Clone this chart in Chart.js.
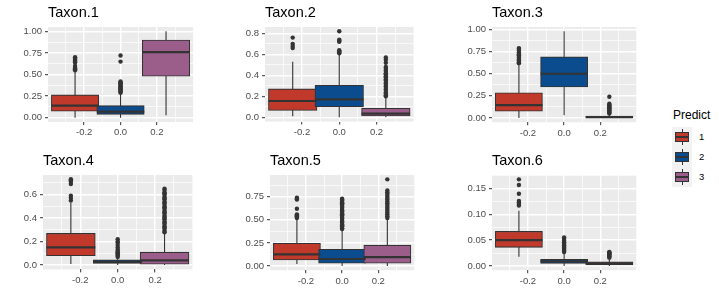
<!DOCTYPE html>
<html lang="en">
<head>
<meta charset="UTF-8">
<title>Taxon boxplots by Predict</title>
<script src="https://cdn.jsdelivr.net/npm/chart.js"></script>
<style>
  body { margin: 0; background: #ffffff; font-family: 'Liberation Sans', Arial, sans-serif; }
  #wrap { position: relative; width: 719px; height: 296px; overflow: hidden; }
  #wrap canvas { position: absolute; }
  .lg-title { position: absolute; left: 673px; top: 108px; font-size: 12px; line-height: 14px; color: #000; }
  .lg-key { position: absolute; left: 672px; width: 20px; height: 20px; background: #F2F2F2; }
  .lg-key .wh { position: absolute; left: 9.5px; top: 2px; width: 1px; height: 16px; background: #333; }
  .lg-key .bx { position: absolute; left: 3px; top: 5px; width: 14px; height: 10px; border: 1px solid #333; box-sizing: border-box; }
  .lg-key .md { position: absolute; left: 3px; top: 9px; width: 14px; height: 2px; background: #333; }
  .lg-label { position: absolute; left: 699px; font-size: 9.5px; line-height: 20px; color: #000; }
</style>
</head>
<body>
<div id="wrap">
  <div class="lg-title">Predict</div>
</div>

<script>
// ---- data ----
const groups = ['1', '2', '3'];
const groupColors = ['#C0392B', '#0B4C8F', '#9B5E8B'];
const groupX = [-0.25, 0, 0.25];
const xTickValues = [-0.2, 0, 0.2];
const xTickLabels = ['-0.2', '0.0', '0.2'];
const taxonNames = ['Taxon.1', 'Taxon.2', 'Taxon.3', 'Taxon.4', 'Taxon.5', 'Taxon.6'];

// each row: [lower whisker, q1, median, q3, upper whisker] for groups 1, 2, 3
const taxon1Stats = [[0.0, 0.075, 0.14, 0.265, 0.53], [0.0, 0.04, 0.072, 0.14, 0.28], [0.03, 0.48, 0.76, 0.90, 1.0]];
const taxon1Outliers = [
  [0.55, 0.56, 0.57, 0.58, 0.60, 0.64, 0.65, 0.66, 0.67, 0.68, 0.69, 0.70],
  [0.29, 0.30, 0.31, 0.32, 0.33, 0.34, 0.35, 0.36, 0.37, 0.38, 0.39, 0.40, 0.41, 0.42, 0.65, 0.72],
  []
];
const taxon1Ticks = [0, 0.25, 0.5, 0.75, 1];
const taxon1Labels = ['0.00', '0.25', '0.50', '0.75', '1.00'];

const taxon2Stats = [[0.01, 0.065, 0.155, 0.27, 0.53], [0.0, 0.10, 0.17, 0.305, 0.60], [0.0, 0.012, 0.035, 0.085, 0.19]];
const taxon2Outliers = [
  [0.66, 0.68, 0.70, 0.76],
  [0.61, 0.62, 0.63, 0.64, 0.72, 0.73, 0.74, 0.82],
  [0.20, 0.21, 0.23, 0.24, 0.26, 0.27, 0.29, 0.30, 0.32, 0.33, 0.35, 0.36, 0.38, 0.39, 0.41, 0.42, 0.44, 0.45, 0.47, 0.48, 0.52, 0.55, 0.57]
];
const taxon2Ticks = [0, 0.2, 0.4, 0.6, 0.8];
const taxon2Labels = ['0.0', '0.2', '0.4', '0.6', '0.8'];

const taxon3Stats = [[0.0, 0.075, 0.145, 0.285, 0.60], [0.03, 0.35, 0.50, 0.69, 0.98], [0.0, 0.003, 0.008, 0.02, 0.045]];
const taxon3Outliers = [
  [0.62, 0.63, 0.65, 0.66, 0.68, 0.69, 0.71, 0.72, 0.74, 0.76, 0.78, 0.79],
  [],
  [0.05, 0.06, 0.07, 0.08, 0.09, 0.10, 0.11, 0.12, 0.13, 0.14, 0.15, 0.16, 0.24]
];
const taxon3Ticks = [0, 0.25, 0.5, 0.75, 1];
const taxon3Labels = ['0.00', '0.25', '0.50', '0.75', '1.00'];

const taxon4Stats = [[0.01, 0.08, 0.15, 0.27, 0.53], [0.0, 0.015, 0.028, 0.045, 0.065], [0.0, 0.008, 0.04, 0.11, 0.265]];
const taxon4Outliers = [
  [0.55, 0.57, 0.59, 0.69, 0.71, 0.72, 0.73],
  [0.07, 0.08, 0.09, 0.10, 0.11, 0.12, 0.13, 0.15, 0.17, 0.19, 0.20, 0.22],
  [0.28, 0.29, 0.31, 0.32, 0.33, 0.35, 0.36, 0.37, 0.39, 0.40, 0.41, 0.42, 0.44, 0.45, 0.46, 0.48, 0.49, 0.50, 0.52, 0.53, 0.54, 0.56, 0.57, 0.58, 0.60, 0.61, 0.62, 0.64, 0.65]
];
const taxon4Ticks = [0, 0.2, 0.4, 0.6];
const taxon4Labels = ['0.0', '0.2', '0.4', '0.6'];

const taxon5Stats = [[0.02, 0.065, 0.125, 0.245, 0.50], [0.0, 0.03, 0.075, 0.18, 0.39], [0.0, 0.03, 0.095, 0.225, 0.51]];
const taxon5Outliers = [
  [0.52, 0.53, 0.54, 0.55, 0.56, 0.62, 0.72, 0.73, 0.74],
  [0.40, 0.41, 0.43, 0.44, 0.45, 0.47, 0.48, 0.49, 0.51, 0.52, 0.53, 0.55, 0.56, 0.57, 0.59, 0.60, 0.61, 0.63, 0.64, 0.65, 0.67, 0.68, 0.69, 0.71, 0.72, 0.73],
  [0.52, 0.54, 0.56, 0.58, 0.60, 0.62, 0.64, 0.66, 0.68, 0.70, 0.72, 0.74, 0.76, 0.78, 0.80, 0.82, 0.94]
];
const taxon5Ticks = [0, 0.25, 0.5, 0.75];
const taxon5Labels = ['0.00', '0.25', '0.50', '0.75'];

const taxon6Stats = [[0.018, 0.036, 0.05, 0.067, 0.107], [0.0, 0.005, 0.009, 0.013, 0.025], [0.0, 0.002, 0.005, 0.008, 0.015]];
const taxon6Outliers = [
  [0.117, 0.12, 0.123, 0.126, 0.14, 0.157, 0.168],
  [0.027, 0.029, 0.031, 0.033, 0.035, 0.037, 0.040, 0.043, 0.046, 0.049, 0.052, 0.055],
  [0.016, 0.018, 0.019, 0.021, 0.022, 0.024, 0.025, 0.026, 0.027]
];
const taxon6Ticks = [0, 0.05, 0.1, 0.15];
const taxon6Labels = ['0.00', '0.05', '0.10', '0.15'];

// ---- layout ----
const FONT = "'Liberation Sans', Arial, sans-serif";
const rows = [
  { top: 0, plotTop: 27, plotBottom: 126 },
  { top: 148, plotTop: 175, plotBottom: 274 }
];
const panels = [
  { stats: taxon1Stats, outliers: taxon1Outliers, ticks: taxon1Ticks, labels: taxon1Labels, left: 48, right: 216, row: 0 },
  { stats: taxon2Stats, outliers: taxon2Outliers, ticks: taxon2Ticks, labels: taxon2Labels, left: 265, right: 437, row: 0 },
  { stats: taxon3Stats, outliers: taxon3Outliers, ticks: taxon3Ticks, labels: taxon3Labels, left: 492, right: 659, row: 0 },
  { stats: taxon4Stats, outliers: taxon4Outliers, ticks: taxon4Ticks, labels: taxon4Labels, left: 43, right: 216, row: 1 },
  { stats: taxon5Stats, outliers: taxon5Outliers, ticks: taxon5Ticks, labels: taxon5Labels, left: 270, right: 437, row: 1 },
  { stats: taxon6Stats, outliers: taxon6Outliers, ticks: taxon6Ticks, labels: taxon6Labels, left: 492, right: 659, row: 1 }
];
const AXIS_W = 45, CANVAS_H = 148;
const PAD_R = 1;                   // Chart.js adds ~2px on the right by itself
const CANVAS_EXTRA_R = 3;
const BOX_W = 0.225;               // box width in x units
const X_LIM = 0.39875;             // (0.25 + BOX_W/2) expanded by 5%

// ggplot-like panel background
const panelBackground = {
  id: 'panelBackground',
  beforeDraw(chart) {
    const { ctx, chartArea: a } = chart;
    ctx.save();
    ctx.fillStyle = '#EBEBEB';
    ctx.fillRect(a.left, a.top, a.width, a.height);
    ctx.restore();
  }
};

// majors + minor midlines
function tickList(majors, labels, lo, hi) {
  const out = majors.map((v, i) => ({ value: v, text: labels[i], minor: false }));
  const step = majors[1] - majors[0];
  for (let i = 0; i < majors.length - 1; i++) out.push({ value: (majors[i] + majors[i + 1]) / 2, text: '', minor: true });
  if (majors[majors.length - 1] + step / 2 < hi) out.push({ value: majors[majors.length - 1] + step / 2, text: '', minor: true });
  if (majors[0] - step / 2 > lo) out.push({ value: majors[0] - step / 2, text: '', minor: true });
  return out.sort((a, b) => a.value - b.value);
}

const gridOpts = {
  offset: false,
  color: '#FFFFFF',
  lineWidth: c => (c.tick && c.tick.minor ? 0.7 : 1.4),
  tickLength: 3,
  tickWidth: 1,
  tickColor: c => (c.tick && c.tick.minor ? 'rgba(0,0,0,0)' : '#333333')
};
const tickFont = { family: FONT, size: 9.5 };

const wrap = document.getElementById('wrap');

panels.forEach((p, i) => {
  const row = rows[p.row];
  const plotW = p.right - p.left;
  const w = plotW + AXIS_W + CANVAS_EXTRA_R;
  const canvas = document.createElement('canvas');
  canvas.width = w; canvas.height = CANVAS_H;
  canvas.style.left = (p.left - AXIS_W) + 'px';
  canvas.style.top = row.top + 'px';
  canvas.style.width = w + 'px';
  canvas.style.height = CANVAS_H + 'px';
  wrap.appendChild(canvas);

  const allVals = p.stats.flat().concat(p.outliers.flat());
  const dMin = Math.min(...allVals), dMax = Math.max(...allVals);
  const r = dMax - dMin;
  const yLo = dMin - 0.05 * r, yHi = dMax + 0.05 * r;
  const yTicks = tickList(p.ticks, p.labels, yLo, yHi);
  const xTicks = tickList(xTickValues, xTickLabels, -X_LIM, X_LIM);
  const boxPx = BOX_W * plotW / (2 * X_LIM);

  const whiskers = [];
  groupX.forEach((x, g) => {
    whiskers.push({ x, y: p.stats[g][0] }, { x, y: p.stats[g][4] }, { x, y: null });
  });
  const points = [];
  groupX.forEach((x, g) => p.outliers[g].forEach(v => points.push({ x, y: v })));

  const titlePadTop = 4, titleSize = 14.5;
  const titleBottom = (row.plotTop - row.top) - titlePadTop - titleSize * 1.2;

  new Chart(canvas, {
    type: 'bar',
    data: {
      datasets: [
        {
          type: 'line', label: 'median', order: 0, showLine: false,
          data: groupX.map((x, g) => ({ x, y: p.stats[g][2] })),
          pointStyle: 'line', pointRadius: boxPx / 2, pointHoverRadius: boxPx / 2,
          pointBorderWidth: 2.2, pointBorderColor: '#333333'
        },
        {
          type: 'bar', label: 'box', order: 1,
          data: groupX.map((x, g) => ({ x, y: [p.stats[g][1], p.stats[g][3]] })),
          backgroundColor: groupColors, borderColor: '#333333', borderWidth: 1.1,
          borderSkipped: false, barThickness: boxPx, grouped: false
        },
        {
          type: 'line', label: 'outliers', order: 2, showLine: false,
          data: points, pointRadius: 2.2, pointHoverRadius: 2.2,
          pointBackgroundColor: '#333333', pointBorderWidth: 0
        },
        {
          type: 'line', label: 'whiskers', order: 3,
          data: whiskers, borderColor: '#333333', borderWidth: 1.1,
          pointRadius: 0, spanGaps: false
        }
      ]
    },
    options: {
      responsive: false,
      animation: false,
      events: [],
      layout: { padding: { left: 0, right: PAD_R, top: 0, bottom: 0 } },
      scales: {
        x: {
          type: 'linear', min: -X_LIM, max: X_LIM, offset: false,
          afterBuildTicks: s => { s.ticks = xTicks.map(t => ({ ...t })); },
          afterFit: s => { s.height = CANVAS_H - (row.plotBottom - row.top); },
          ticks: { autoSkip: false, maxRotation: 0, padding: 2, color: '#4D4D4D', font: tickFont,
                   callback: (v, idx, ticks) => ticks[idx].text },
          grid: gridOpts,
          border: { display: false }
        },
        y: {
          type: 'linear', min: yLo, max: yHi,
          afterBuildTicks: s => { s.ticks = yTicks.map(t => ({ ...t })); },
          afterFit: s => { s.width = AXIS_W; },
          ticks: { autoSkip: false, padding: 3, color: '#4D4D4D', font: tickFont,
                   callback: (v, idx, ticks) => ticks[idx].text },
          grid: gridOpts,
          border: { display: false }
        }
      },
      plugins: {
        legend: { display: false },
        tooltip: { enabled: false },
        title: {
          display: true, text: taxonNames[i], align: 'start', fullSize: false,
          color: '#000000',
          font: { family: FONT, size: titleSize, weight: 'normal', lineHeight: 1.2 },
          padding: { top: titlePadTop, bottom: titleBottom }
        }
      }
    },
    plugins: [panelBackground]
  });
});

// shared legend
groups.forEach((g, k) => {
  const top = 127 + 20 * k;
  const key = document.createElement('div');
  key.className = 'lg-key';
  key.style.top = top + 'px';
  key.innerHTML = '<div class="wh"></div><div class="bx" style="background:' + groupColors[k] + '"></div><div class="md"></div>';
  wrap.appendChild(key);
  const lab = document.createElement('div');
  lab.className = 'lg-label';
  lab.style.top = top + 'px';
  lab.textContent = g;
  wrap.appendChild(lab);
});
</script>
</body>
</html>
